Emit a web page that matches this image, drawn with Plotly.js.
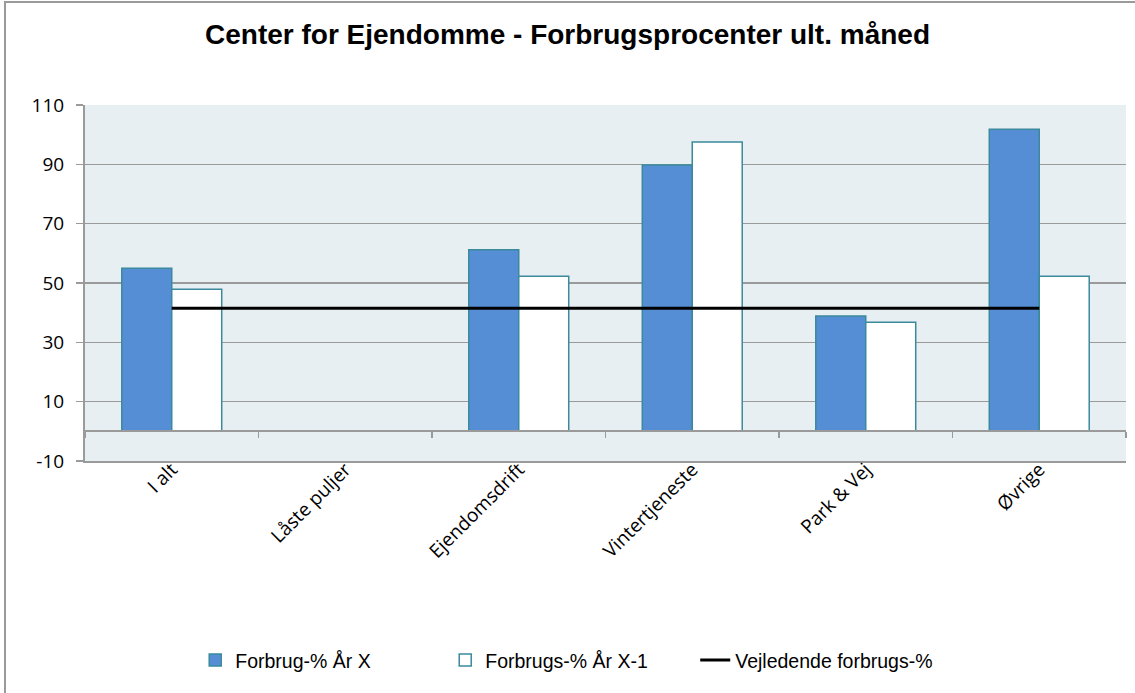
<!DOCTYPE html>
<html>
<head>
<meta charset="utf-8">
<script src="https://cdn.plot.ly/plotly-3.0.1.min.js"></script>
<style>
html,body{margin:0;padding:0;overflow:hidden;background:#fff;}
#chart{position:absolute;left:0;top:0;width:1135px;height:693px;}
#frame{position:absolute;left:4px;top:1px;width:1300px;height:900px;border-left:2px solid #9a9a9a;border-top:2px solid #9a9a9a;pointer-events:none;}
</style>
</head>
<body>
<div id="chart"></div>
<div id="frame"></div>
<script>
const categories = ["I alt", "Låste puljer", "Ejendomsdrift", "Vintertjeneste", "Park & Vej", "Øvrige"];
const forbrugAarX = [55, null, 61.2, 89.8, 38.9, 101.8];
const forbrugAarX1 = [47.9, null, 52.3, 97.5, 36.8, 52.3];
const vejledende = [41.5, 41.5, 41.5, 41.5, 41.5, 41.5];
const yTicks = [-10, 10, 30, 50, 70, 90, 110];

const tickFont = {family: "'Open Sans', Lato, sans-serif", size: 19, color: "#000"};
const narrow = "'Liberation Sans Narrow', 'Arial Narrow', 'Liberation Sans', sans-serif";

const traces = [
  {type: "bar", name: "Forbrug-% År X", x: categories, y: forbrugAarX,
   marker: {color: "#558ed5", line: {color: "#3a8a9c", width: 1.5}}},
  {type: "bar", name: "Forbrugs-% År X-1", x: categories, y: forbrugAarX1,
   marker: {color: "#ffffff", line: {color: "#3a8a9c", width: 1.5}}},
  {type: "scatter", mode: "lines", name: "Vejledende forbrugs-%", x: categories, y: vejledende,
   xaxis: "x2", line: {color: "#000", width: 3}}
];

const layout = {
  width: 1135, height: 693,
  margin: {l: 85, r: 9, t: 105, b: 232, autoexpand: false},
  paper_bgcolor: "rgba(0,0,0,0)",
  plot_bgcolor: "#e8eff3",
  title: {text: "<b>Center for Ejendomme - Forbrugsprocenter ult. måned</b>",
          font: {family: narrow, size: 28, color: "#000"}, x: 0.5, xanchor: "center",
          yref: "container", y: 0.95, yanchor: "middle"},
  barmode: "group", bargap: 0.424, bargroupgap: 0,
  showlegend: true,
  legend: {orientation: "h", xref: "container", x: 0.172, xanchor: "left", yref: "container", y: 0.047, yanchor: "middle",
           font: {family: narrow, size: 19.5, color: "#000"}, traceorder: "normal",
           itemwidth: 30, entrywidth: 205, entrywidthmode: "pixels", bgcolor: "rgba(0,0,0,0)"},
  xaxis: {type: "category", categoryarray: categories, categoryorder: "array", automargin: false,
          tickangle: -45, tickfont: tickFont, ticks: "", showgrid: false, ticklabelstandoff: -12,
          showline: true, linecolor: "#9a9a9a", linewidth: 2, mirror: false, zeroline: false,
          range: [-0.5, 5.5]},
  xaxis2: {type: "category", overlaying: "x", matches: "x", anchor: "free", position: 1/12, automargin: false,
           showticklabels: false, ticks: "outside", tickson: "boundaries", ticklen: 6,
           tickcolor: "#9a9a9a", tickwidth: 1.5, showline: true, linecolor: "#9a9a9a", linewidth: 2,
           showgrid: false, zeroline: false},
  yaxis: {range: [-10, 110], tickmode: "array", tickvals: yTicks, ticktext: yTicks.map(String), automargin: false,
          tickfont: tickFont, showgrid: true, gridcolor: "#9a9a9a", gridwidth: 1.5,
          ticks: "outside", ticklen: 7, tickcolor: "#9a9a9a", tickwidth: 1.5, ticklabelstandoff: 8,
          showline: true, linecolor: "#9a9a9a", linewidth: 2, zeroline: false, domain: [0, 1]}
};

Plotly.newPlot("chart", traces, layout, {displayModeBar: false, staticPlot: true});
</script>
</body>
</html>
